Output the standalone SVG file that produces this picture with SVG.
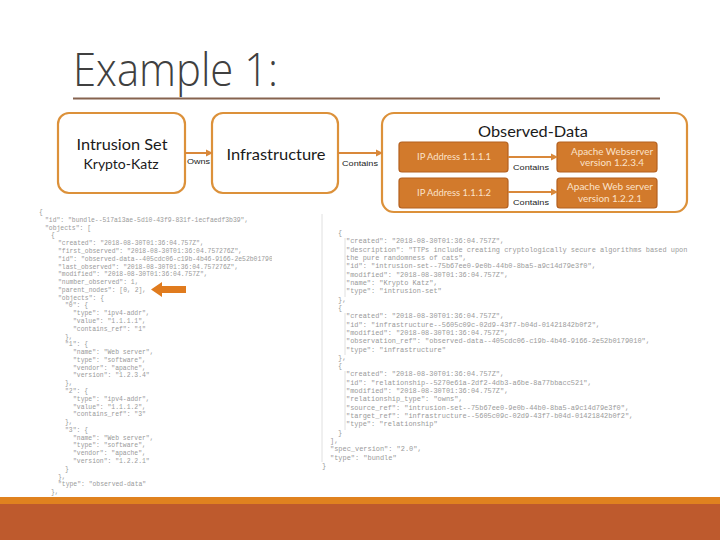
<svg xmlns="http://www.w3.org/2000/svg" width="720" height="540" viewBox="0 0 720 540">
<style>
.box{fill:#fff;stroke:#DC913A;stroke-width:2.2}
.inner{fill:#D27A2C;stroke:#B4601F;stroke-width:1.2}
.lbl{font-family:Lato,"Liberation Sans",sans-serif;fill:#1a1a1a}
.in{font-family:Lato,"Liberation Sans",sans-serif;fill:#FBE2CA;font-size:9px;text-anchor:middle}
.conn{stroke:#D9883A;stroke-width:2;fill:none}
.small{font-family:"Liberation Sans",sans-serif;font-size:8px;fill:#222}
.jl{font-family:"Liberation Mono",monospace;font-size:6.4px;fill:#9a9a9a;white-space:pre}
.jr{font-family:"Liberation Mono",monospace;font-size:6.95px;fill:#9a9a9a;white-space:pre}
.guide{stroke:#d8d8d8;stroke-width:0.8}
</style>
<defs>
<marker id="ah" markerWidth="8" markerHeight="8" refX="6" refY="4" orient="auto" markerUnits="userSpaceOnUse">
<path d="M0,0.5 L7,4 L0,7.5 z" fill="#D9883A"/>
</marker>
<clipPath id="lclip"><rect x="0" y="200" width="272" height="300"/></clipPath>
</defs>
<rect width="720" height="540" fill="#fff"/>
<text x="73" y="86" font-family="'Open Sans',Lato,sans-serif" font-weight="300" font-size="46" fill="#404040" textLength="205" lengthAdjust="spacingAndGlyphs">Example 1:</text>
<line x1="73" y1="98.5" x2="660" y2="98.5" stroke="#86634F" stroke-width="2"/>

<g id="intrusion-set">
<rect class="box" x="58" y="113" width="127" height="80" rx="11"/>
<text class="lbl" x="122" y="150" font-size="15.5" text-anchor="middle" textLength="91" lengthAdjust="spacingAndGlyphs">Intrusion Set</text>
<text class="lbl" x="121" y="169" font-size="13.5" text-anchor="middle" textLength="75" lengthAdjust="spacingAndGlyphs">Krypto-Katz</text>
</g>
<g id="infrastructure">
<rect class="box" x="212" y="113" width="126" height="80" rx="11"/>
<text class="lbl" x="276" y="160" font-size="16" text-anchor="middle" textLength="99" lengthAdjust="spacingAndGlyphs">Infrastructure</text>
</g>
<g id="observed-data">
<rect class="box" x="382" y="113" width="305" height="99" rx="12"/>
<text class="lbl" x="533" y="137" font-size="15.5" text-anchor="middle" textLength="110" lengthAdjust="spacingAndGlyphs">Observed-Data</text>
</g>
<g id="ip1">
<rect class="inner" x="399" y="142" width="109" height="30" rx="3"/>
<text class="in" x="454" y="160" textLength="74" lengthAdjust="spacingAndGlyphs">IP Address 1.1.1.1</text>
</g>
<g id="ip2">
<rect class="inner" x="399" y="178" width="109" height="30" rx="3"/>
<text class="in" x="454" y="196" textLength="74" lengthAdjust="spacingAndGlyphs">IP Address 1.1.1.2</text>
</g>
<g id="apache1">
<rect class="inner" x="557" y="142" width="100" height="30" rx="3"/>
<text class="in" x="612" y="155" textLength="82" lengthAdjust="spacingAndGlyphs">Apache Webserver</text>
<text class="in" x="612" y="166" textLength="64" lengthAdjust="spacingAndGlyphs">version 1.2.3.4</text>
</g>
<g id="apache2">
<rect class="inner" x="557" y="178" width="100" height="30" rx="3"/>
<text class="in" x="610" y="190" textLength="86" lengthAdjust="spacingAndGlyphs">Apache Web server</text>
<text class="in" x="610" y="202" textLength="64" lengthAdjust="spacingAndGlyphs">version 1.2.2.1</text>
</g>

<g id="connectors">
<line class="conn" x1="185" y1="153" x2="212" y2="153" marker-end="url(#ah)"/>
<text class="small" x="187" y="164" textLength="23" lengthAdjust="spacingAndGlyphs">Owns</text>
<line class="conn" x1="338" y1="153" x2="382" y2="153" marker-end="url(#ah)"/>
<text class="small" x="342" y="166" textLength="36" lengthAdjust="spacingAndGlyphs">Contains</text>
<line class="conn" x1="508" y1="157" x2="557" y2="157" marker-end="url(#ah)"/>
<text class="small" x="513" y="170" textLength="36" lengthAdjust="spacingAndGlyphs">Contains</text>
<line class="conn" x1="508" y1="192" x2="557" y2="192" marker-end="url(#ah)"/>
<text class="small" x="513" y="205" textLength="36" lengthAdjust="spacingAndGlyphs">Contains</text>
</g>

<g id="json-left" clip-path="url(#lclip)">
<text class="jl" x="39" y="214">{</text>
<text class="jl" x="45" y="221.8">"id": "bundle--517a13ae-5d10-43f9-831f-1ecfaedf3b39",</text>
<text class="jl" x="45" y="229.6">"objects": [</text>
<text class="jl" x="51" y="237.3">{</text>
<text class="jl" x="58" y="245.1">"created": "2018-08-30T01:36:04.757Z",</text>
<text class="jl" x="58" y="252.9">"first_observed": "2018-08-30T01:36:04.757276Z",</text>
<text class="jl" x="58" y="260.7">"id": "observed-data--405cdc06-c19b-4b46-9166-2e52b0179010",</text>
<text class="jl" x="58" y="268.5">"last_observed": "2018-08-30T01:36:04.757276Z",</text>
<text class="jl" x="58" y="276.2">"modified": "2018-08-30T01:36:04.757Z",</text>
<text class="jl" x="58" y="284">"number_observed": 1,</text>
<text class="jl" x="58" y="291.8">"parent_nodes": [0, 2],</text>
<text class="jl" x="58" y="299.6">"objects": {</text>
<text class="jl" x="65" y="307.4">"0": {</text>
<text class="jl" x="73" y="315.1">"type": "ipv4-addr",</text>
<text class="jl" x="73" y="322.9">"value": "1.1.1.1",</text>
<text class="jl" x="73" y="330.7">"contains_ref": "1"</text>
<text class="jl" x="65" y="338.5">},</text>
<text class="jl" x="65" y="346.3">"1": {</text>
<text class="jl" x="73" y="354">"name": "Web server",</text>
<text class="jl" x="73" y="361.8">"type": "software",</text>
<text class="jl" x="73" y="369.6">"vendor": "apache",</text>
<text class="jl" x="73" y="377.4">"version": "1.2.3.4"</text>
<text class="jl" x="65" y="385.2">},</text>
<text class="jl" x="65" y="392.9">"2": {</text>
<text class="jl" x="73" y="400.7">"type": "ipv4-addr",</text>
<text class="jl" x="73" y="408.5">"value": "1.1.1.2",</text>
<text class="jl" x="73" y="416.3">"contains_ref": "3"</text>
<text class="jl" x="65" y="424.1">},</text>
<text class="jl" x="65" y="431.8">"3": {</text>
<text class="jl" x="73" y="439.6">"name": "Web server",</text>
<text class="jl" x="73" y="447.4">"type": "software",</text>
<text class="jl" x="73" y="455.2">"vendor": "apache",</text>
<text class="jl" x="73" y="463">"version": "1.2.2.1"</text>
<text class="jl" x="65" y="470.7">}</text>
<text class="jl" x="58" y="478.5">},</text>
<text class="jl" x="58" y="486.3">"type": "observed-data"</text>
<text class="jl" x="51" y="494.1">},</text>
</g>
<path d="M151,289.5 L162,282 L162,286 L186,286 L186,293 L162,293 L162,297 z" fill="#E07B1E"/>

<g id="json-right">
<line class="guide" x1="322" y1="214" x2="322" y2="462"/>
<line class="guide" x1="345" y1="238" x2="345" y2="297"/>
<line class="guide" x1="345" y1="313" x2="345" y2="355"/>
<line class="guide" x1="345" y1="371" x2="345" y2="430"/>
<text class="jr" x="338" y="235">{</text>
<text class="jr" x="346" y="243.3">"created": "2018-08-30T01:36:04.757Z",</text>
<text class="jr" x="346" y="251.6">"description": "TTPs include creating cryptologically secure algorithms based upon</text>
<text class="jr" x="346" y="260">the pure randomness of cats",</text>
<text class="jr" x="346" y="268.3">"id": "intrusion-set--75b67ee0-9e0b-44b0-8ba5-a9c14d79e3f0",</text>
<text class="jr" x="346" y="276.6">"modified": "2018-08-30T01:36:04.757Z",</text>
<text class="jr" x="346" y="284.9">"name": "Krypto Katz",</text>
<text class="jr" x="346" y="293.2">"type": "intrusion-set"</text>
<text class="jr" x="338" y="301.6">},</text>
<text class="jr" x="338" y="309.9">{</text>
<text class="jr" x="346" y="318.2">"created": "2018-08-30T01:36:04.757Z",</text>
<text class="jr" x="346" y="326.5">"id": "infrastructure--5605c09c-02d9-43f7-b04d-01421842b0f2",</text>
<text class="jr" x="346" y="334.8">"modified": "2018-08-30T01:36:04.757Z",</text>
<text class="jr" x="346" y="343.2">"observation_ref": "observed-data--405cdc06-c19b-4b46-9166-2e52b0179010",</text>
<text class="jr" x="346" y="351.5">"type": "infrastructure"</text>
<text class="jr" x="338" y="359.8">},</text>
<text class="jr" x="338" y="368.1">{</text>
<text class="jr" x="346" y="376.4">"created": "2018-08-30T01:36:04.757Z",</text>
<text class="jr" x="346" y="384.8">"id": "relationship--5270e61a-2df2-4db3-a6be-8a77bbacc521",</text>
<text class="jr" x="346" y="393.1">"modified": "2018-08-30T01:36:04.757Z",</text>
<text class="jr" x="346" y="401.4">"relationship_type": "owns",</text>
<text class="jr" x="346" y="409.7">"source_ref": "intrusion-set--75b67ee0-9e0b-44b0-8ba5-a9c14d79e3f0",</text>
<text class="jr" x="346" y="418">"target_ref": "infrastructure--5605c09c-02d9-43f7-b04d-01421842b0f2",</text>
<text class="jr" x="346" y="426.4">"type": "relationship"</text>
<text class="jr" x="338" y="434.7">}</text>
<text class="jr" x="330" y="443">],</text>
<text class="jr" x="330" y="451.3">"spec_version": "2.0",</text>
<text class="jr" x="330" y="459.6">"type": "bundle"</text>
<text class="jr" x="322" y="468">}</text>
</g>

<rect x="0" y="497" width="720" height="7" fill="#E0821F"/>
<rect x="0" y="504" width="720" height="36" fill="#BE5A2D"/>
</svg>
